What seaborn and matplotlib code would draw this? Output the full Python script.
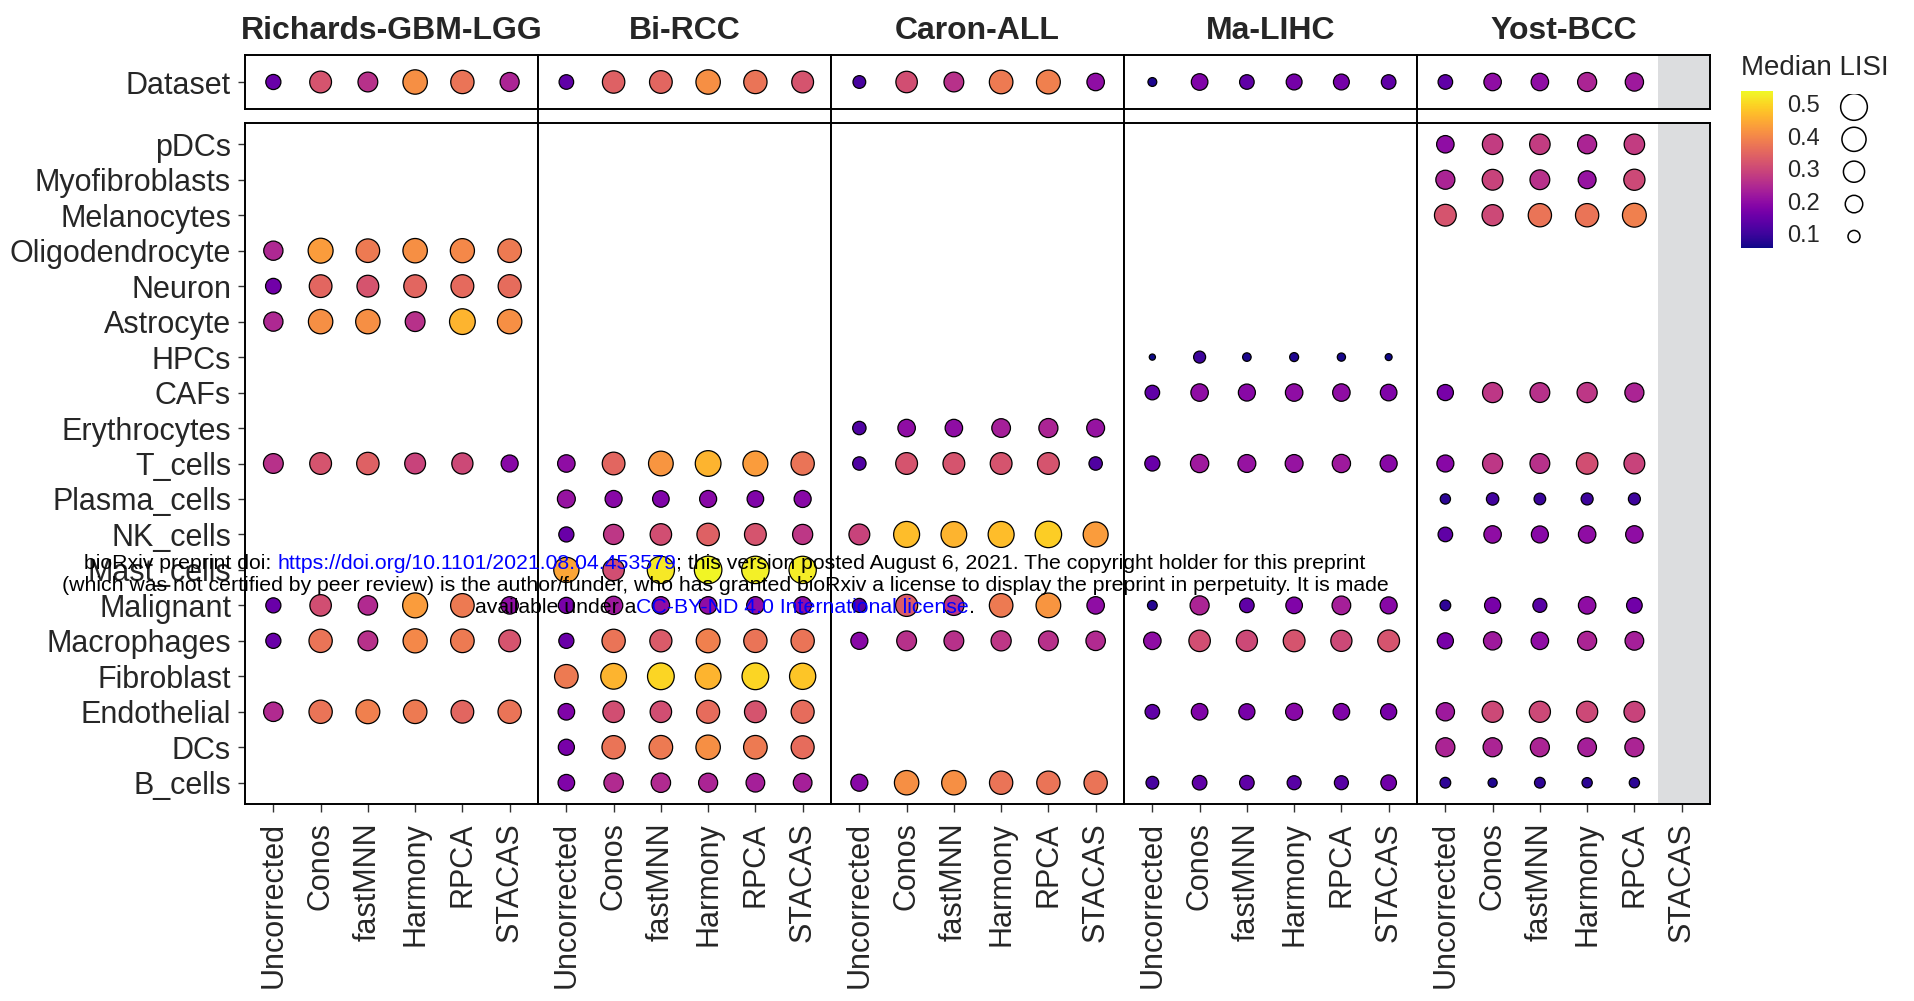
import numpy as np
import pandas as pd
import matplotlib
matplotlib.use("Agg")
import matplotlib.pyplot as plt
import matplotlib.colors as mcolors
from matplotlib.lines import Line2D
import seaborn as sns

sns.set_style("white")
plt.rcParams["font.family"] = ["Liberation Sans", "DejaVu Sans"]

# ---------------------------------------------------------------- data
methods = ["Uncorrected", "Conos", "fastMNN", "Harmony", "RPCA", "STACAS"]
datasets = ["Richards-GBM-LGG", "Bi-RCC", "Caron-ALL", "Ma-LIHC", "Yost-BCC"]
cell_types = ["pDCs", "Myofibroblasts", "Melanocytes", "Oligodendrocyte", "Neuron",
              "Astrocyte", "HPCs", "CAFs", "Erythrocytes", "T_cells", "Plasma_cells",
              "NK_cells", "Mast_cells", "Malignant", "Macrophages", "Fibroblast",
              "Endothelial", "DCs", "B_cells"]

# median LISI over the whole dataset, one value per method
richards_dataset = [0.15, 0.32, 0.26, 0.41, 0.37, 0.24]
bi_dataset = [0.14, 0.34, 0.35, 0.41, 0.37, 0.32]
caron_dataset = [0.11, 0.31, 0.26, 0.38, 0.39, 0.20]
ma_dataset = [0.068, 0.18, 0.14, 0.165, 0.165, 0.14]
yost_dataset = [0.14, 0.20, 0.20, 0.24, 0.22]

# median LISI per cell type, one value per method
richards_cells = ["Oligodendrocyte", "Neuron", "Astrocyte", "T_cells",
                  "Malignant", "Macrophages", "Endothelial"]
richards_lisi = [
    [0.245, 0.43, 0.38, 0.41, 0.40, 0.38],
    [0.16, 0.35, 0.32, 0.35, 0.355, 0.36],
    [0.245, 0.41, 0.41, 0.26, 0.46, 0.41],
    [0.26, 0.32, 0.34, 0.29, 0.30, 0.19],
    [0.15, 0.31, 0.25, 0.43, 0.38, 0.20],
    [0.15, 0.37, 0.26, 0.40, 0.38, 0.32],
    [0.25, 0.37, 0.39, 0.38, 0.35, 0.37],
]

bi_cells = ["T_cells", "Plasma_cells", "NK_cells", "Mast_cells", "Malignant",
            "Macrophages", "Fibroblast", "Endothelial", "DCs", "B_cells"]
bi_lisi = [
    [0.20, 0.35, 0.42, 0.46, 0.43, 0.37],
    [0.21, 0.19, 0.18, 0.19, 0.18, 0.19],
    [0.15, 0.27, 0.31, 0.34, 0.32, 0.27],
    [0.44, 0.31, 0.52, 0.535, 0.53, 0.525],
    [0.17, 0.22, 0.20, 0.20, 0.20, 0.20],
    [0.15, 0.37, 0.33, 0.39, 0.37, 0.37],
    [0.38, 0.46, 0.50, 0.46, 0.50, 0.48],
    [0.18, 0.31, 0.31, 0.36, 0.32, 0.36],
    [0.17, 0.37, 0.38, 0.41, 0.38, 0.36],
    [0.18, 0.25, 0.25, 0.24, 0.23, 0.23],
]

caron_cells = ["Erythrocytes", "T_cells", "NK_cells", "Malignant",
               "Macrophages", "B_cells"]
caron_lisi = [
    [0.12, 0.20, 0.20, 0.23, 0.24, 0.21],
    [0.12, 0.32, 0.32, 0.32, 0.32, 0.12],
    [0.29, 0.47, 0.46, 0.47, 0.49, 0.43],
    [0.13, 0.33, 0.27, 0.38, 0.42, 0.20],
    [0.19, 0.26, 0.26, 0.27, 0.26, 0.25],
    [0.19, 0.41, 0.41, 0.37, 0.37, 0.37],
]

ma_cells = ["HPCs", "CAFs", "T_cells", "Malignant", "Macrophages",
            "Endothelial", "B_cells"]
ma_lisi = [
    [0.056, 0.10, 0.066, 0.069, 0.064, 0.058],
    [0.14, 0.20, 0.19, 0.20, 0.20, 0.18],
    [0.15, 0.22, 0.21, 0.21, 0.22, 0.19],
    [0.075, 0.24, 0.14, 0.18, 0.23, 0.19],
    [0.20, 0.31, 0.30, 0.32, 0.30, 0.32],
    [0.14, 0.18, 0.17, 0.19, 0.18, 0.17],
    [0.11, 0.14, 0.14, 0.13, 0.13, 0.16],
]

yost_cells = ["pDCs", "Myofibroblasts", "Melanocytes", "CAFs", "T_cells",
              "Plasma_cells", "NK_cells", "Malignant", "Macrophages",
              "Endothelial", "DCs", "B_cells"]
yost_lisi = [
    [0.20, 0.28, 0.28, 0.24, 0.28],
    [0.24, 0.29, 0.26, 0.21, 0.30],
    [0.32, 0.30, 0.37, 0.37, 0.39],
    [0.17, 0.27, 0.26, 0.27, 0.24],
    [0.19, 0.27, 0.26, 0.31, 0.29],
    [0.08, 0.105, 0.095, 0.10, 0.10],
    [0.14, 0.20, 0.19, 0.20, 0.20],
    [0.085, 0.17, 0.13, 0.20, 0.16],
    [0.17, 0.22, 0.20, 0.24, 0.23],
    [0.22, 0.30, 0.30, 0.30, 0.29],
    [0.24, 0.24, 0.24, 0.23, 0.24],
    [0.085, 0.07, 0.085, 0.08, 0.08],
]

legend_breaks = [0.1, 0.2, 0.3, 0.4, 0.5]
lisi_limits = (0.055, 0.54)

# ---------------------------------------------------------------- long table
panels = [
    ("Richards-GBM-LGG", richards_dataset, richards_cells, richards_lisi),
    ("Bi-RCC", bi_dataset, bi_cells, bi_lisi),
    ("Caron-ALL", caron_dataset, caron_cells, caron_lisi),
    ("Ma-LIHC", ma_dataset, ma_cells, ma_lisi),
    ("Yost-BCC", yost_dataset, yost_cells, yost_lisi),
]
records = []
for name, ds_vals, cells, vals in panels:
    for m, v in zip(methods, ds_vals):
        records.append((name, "Dataset", m, v))
    for c, row in zip(cells, vals):
        for m, v in zip(methods, row):
            records.append((name, c, m, v))
df = pd.DataFrame(records, columns=["dataset", "cell_type", "method", "lisi"])
df["x"] = df["method"].map({m: i for i, m in enumerate(methods)})
row_index = {c: i for i, c in enumerate(cell_types)}
row_index["Dataset"] = 0
df["y"] = df["cell_type"].map(row_index)

# ---------------------------------------------------------------- size scale
DPI = 100
EDGE = 0.9


def marker_area(v):
    """Area scale: diameter grows with sqrt of the rescaled value."""
    t = np.clip((v - lisi_limits[0]) / (lisi_limits[1] - lisi_limits[0]), 0, 1)
    d_px = 6.4 + 22.5 * np.sqrt(t)
    d_pt = d_px * 72 / DPI - EDGE
    return float(d_pt ** 2)


size_lut = {v: marker_area(v) for v in df["lisi"].unique()}

# ---------------------------------------------------------------- layout
W, H = 1915, 1001
fig = plt.figure(figsize=(W / DPI, H / DPI), dpi=DPI)


def fx(px):
    return px / W


def fy(py):
    return 1 - py / H


x0, x1 = 245, 1710
fw = (x1 - x0) / 5
top_y0, top_y1 = 55, 109
low_y0, low_y1 = 123, 804
BORDER = 1.4
GREY = "#DCDDDF"
FS = 22

for i, name in enumerate(datasets):
    left = x0 + i * fw
    ax_t = fig.add_axes([fx(left), fy(top_y1), fw / W, (top_y1 - top_y0) / H])
    ax_b = fig.add_axes([fx(left), fy(low_y1), fw / W, (low_y1 - low_y0) / H])
    sub = df[df["dataset"] == name]
    for ax, part in ((ax_t, sub[sub["cell_type"] == "Dataset"]),
                     (ax_b, sub[sub["cell_type"] != "Dataset"])):
        sns.scatterplot(data=part, x="x", y="y", hue="lisi", size="lisi",
                        palette="plasma", hue_norm=lisi_limits, sizes=size_lut,
                        edgecolor="black", linewidth=EDGE, legend=False,
                        ax=ax, zorder=3)
        ax.set_xlim(-0.6, len(methods) - 0.4)
        ax.set_xlabel("")
        ax.set_ylabel("")
        for sp in ax.spines.values():
            sp.set_visible(True)
            sp.set_color("black")
            sp.set_linewidth(BORDER)
        if name == "Yost-BCC":
            ax.axvspan(4.5, len(methods) - 0.4, color=GREY, lw=0, zorder=0)
    ax_t.set_ylim(0.6, -0.6)
    ax_b.set_ylim(len(cell_types) - 0.4, -0.6)
    ax_t.set_xticks([])
    ax_b.set_xticks(range(len(methods)))
    ax_b.set_xticklabels(methods, rotation=90, fontsize=FS, va="top", ha="center")
    ax_b.tick_params(axis="x", direction="out", length=6, width=1.0,
                     color="#333333", pad=7, bottom=True)
    if i == 0:
        ax_t.set_yticks([0])
        ax_t.set_yticklabels(["Dataset"], fontsize=FS)
        ax_b.set_yticks(range(len(cell_types)))
        ax_b.set_yticklabels(cell_types, fontsize=FS)
        for ax in (ax_t, ax_b):
            ax.tick_params(axis="y", direction="out", length=5, width=1.0,
                           color="#333333", pad=5, left=True)
    else:
        ax_t.set_yticks([])
        ax_b.set_yticks([])
    ax_t.set_title(name, fontsize=23, fontweight="bold", pad=11.5)

# facet dividers run through the gap between the two rows
for i in range(1, 5):
    xd = fx(x0 + i * fw)
    fig.add_artist(Line2D([xd, xd], [fy(top_y1), fy(low_y0)],
                          transform=fig.transFigure, color="black", lw=BORDER))

# ---------------------------------------------------------------- legend
fig.text(fx(1741), fy(75), "Median LISI", fontsize=20, va="baseline", ha="left")
cax = fig.add_axes([fx(1741), fy(248), 32 / W, 157 / H])
sm = plt.cm.ScalarMappable(norm=mcolors.Normalize(*lisi_limits), cmap="plasma")
cb = fig.colorbar(sm, cax=cax, ticks=legend_breaks)
cb.outline.set_visible(False)
cb.ax.set_yticklabels([f"{b:.1f}" for b in legend_breaks])
cax.tick_params(axis="y", direction="in", color=(1, 1, 1, 0.8), length=3.5,
                width=1.0, left=True, right=True, labelsize=17, pad=10)

lax = fig.add_axes([fx(1826), fy(251), 56 / W, 157 / H])
lax.scatter(np.zeros(len(legend_breaks)), legend_breaks,
            s=[marker_area(b) for b in legend_breaks],
            facecolors="none", edgecolors="black", linewidths=1.1)
lax.set_ylim(*lisi_limits)
lax.set_xlim(-1, 1)
lax.axis("off")

# ---------------------------------------------------------------- preprint notice
renderer = fig.canvas.get_renderer()


def text_width(s, size):
    t1 = fig.text(0, 0, s + "I", fontsize=size)
    t2 = fig.text(0, 0, "I", fontsize=size)
    w = t1.get_window_extent(renderer).width - t2.get_window_extent(renderer).width
    t1.remove()
    t2.remove()
    return w


notice = [
    [("bioRxiv preprint doi: ", "black"),
     ("https://doi.org/10.1101/2021.08.04.453579", "blue"),
     ("; this version posted August 6, 2021. The copyright holder for this preprint", "black")],
    [("(which was not certified by peer review) is the author/funder, who has granted "
      "bioRxiv a license to display the preprint in perpetuity. It is made", "black")],
    [("available under a", "black"),
     ("CC-BY-ND 4.0 International license", "blue"),
     (".", "black")],
]
base_lines = [569, 591, 613]
center_x = 725
ref = "".join(p for p, _ in notice[1])
notice_size = 10 * 1334 / text_width(ref, 10)

for pieces, base in zip(notice, base_lines):
    full = "".join(p for p, _ in pieces)
    start = center_x - text_width(full, notice_size) / 2
    prefix = ""
    for txt, col in pieces:
        off = text_width(prefix, notice_size) if prefix else 0.0
        fig.text(fx(start + off), fy(base), txt, color=col, fontsize=notice_size,
                 va="baseline", ha="left", zorder=10)
        prefix += txt

fig.savefig("out.png", dpi=DPI)
